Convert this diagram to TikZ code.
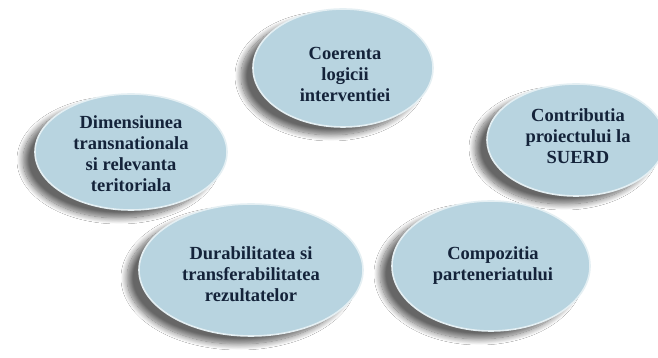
\documentclass[tikz,border=0pt]{standalone}
\usepackage{fontspec}
\setmainfont{Liberation Serif}
\usetikzlibrary{shapes.geometric,shadows.blur}
\definecolor{ellfill}{HTML}{B8D4E0}
\definecolor{ellrim}{HTML}{E4EFF3}
\definecolor{txt}{HTML}{14233A}
\begin{document}
\begin{tikzpicture}[x=1pt,y=1pt,
  bubble/.style={ellipse, fill=ellfill, draw=ellrim, line width=1.6pt, inner sep=0pt,
    blur shadow={shadow xshift=-12pt, shadow yshift=-8pt, shadow opacity=60,
      shadow blur radius=6pt, shadow blur steps=14}},
  lbl/.style={text=txt, font=\bfseries\fontsize{18.5}{21}\selectfont, align=center, inner sep=0pt}]
\useasboundingbox (0,0) rectangle (658,358);
\fill[white] (0,0) rectangle (658,358);
% top
\node[bubble, minimum width=180pt, minimum height=118pt] (a) at (343,290) {};
\node[lbl] (ta) at ([shift={(2,-6)}]a.center) {Coerenta\\logicii\\interventiei};
% left
\node[bubble, minimum width=192pt, minimum height=116pt] (b) at (131,206) {};
\node[lbl] (tb) at ([shift={(0,-2)}]b.center) {Dimensiunea\\transnationala\\si relevanta\\teritoriala};
% right
\node[bubble, minimum width=178pt, minimum height=112pt] (c) at (576,218) {};
\node[lbl] (tc) at ([shift={(2,4)}]c.center) {Contributia\\proiectului la\\SUERD};
% bottom left
\node[bubble, minimum width=224pt, minimum height=132pt] (d) at (251,88) {};
\node[lbl] (td) at ([shift={(0,-4)}]d.center) {Durabilitatea si\\transferabilitatea\\rezultatelor};
% bottom right
\node[bubble, minimum width=198pt, minimum height=130pt] (e) at (491,92) {};
\node[lbl] (te) at ([shift={(2,0)}]e.center) {Compozitia\\parteneriatului};
\end{tikzpicture}
\end{document}
